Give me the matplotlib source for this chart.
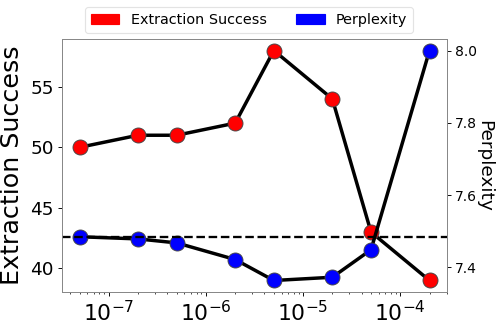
import matplotlib
matplotlib.use("Agg")
import matplotlib.pyplot as plt
from matplotlib.patches import Patch

lrs = [5e-8, 2e-7, 5e-7, 2e-6, 5e-6, 2e-5, 5e-5, 2e-4]
extraction = [50, 51, 51, 52, 58, 54, 43, 39]
perplexity = [7.485, 7.479, 7.468, 7.422, 7.364, 7.373, 7.449, 8.0]
baseline_ppl = 7.485

fig = plt.figure(figsize=(6, 4), dpi=83)
ax = fig.add_axes([0.1245, 0.1205, 0.7731, 0.762])
ax.plot(lrs, extraction, color='black', lw=3, marker='o', markersize=13,
        markerfacecolor='red', markeredgecolor='#444444', markeredgewidth=0.8)
ax.set_xscale('log')
ax.set_ylabel('Extraction Success', fontsize=22, labelpad=6)
ax.tick_params(axis='y', labelsize=16)
ax.tick_params(axis='x', labelsize=19)
ax.set_yticks([40, 45, 50, 55])

ax2 = ax.twinx()
ax2.plot(lrs, perplexity, color='black', lw=3, marker='o', markersize=13,
         markerfacecolor='blue', markeredgecolor='#444444', markeredgewidth=0.8)
ax2.axhline(baseline_ppl, color='black', lw=2, ls='--')
ax2.set_ylabel('Perplexity', fontsize=16, rotation=270, labelpad=14)
ax2.tick_params(axis='y', labelsize=12)
ax2.set_yticks([7.4, 7.6, 7.8, 8.0])

for a in (ax, ax2):
    for s in a.spines.values():
        s.set_color('#888888')

handles = [Patch(color='red', label='Extraction Success'),
           Patch(color='blue', label='Perplexity')]
fig.legend(handles=handles, loc='upper center', bbox_to_anchor=(0.5, 1.0),
           ncol=2, fontsize=12.5, frameon=True, edgecolor='#dddddd')

fig.savefig('out.png', dpi=83)
